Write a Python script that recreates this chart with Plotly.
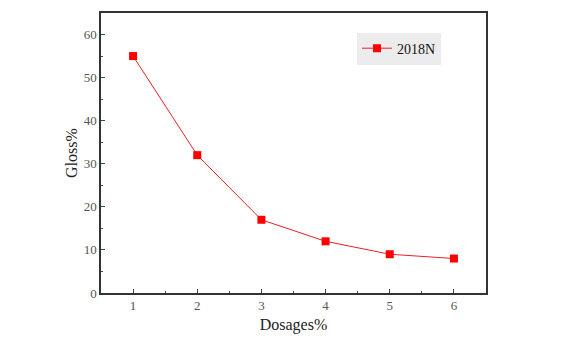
import plotly.graph_objects as go

dosages = [1, 2, 3, 4, 5, 6]
gloss = [55, 32, 17, 12, 9, 8]
series_name = "2018N"

fig = go.Figure()
fig.add_trace(go.Scatter(
    x=dosages, y=gloss, name=series_name, mode="lines+markers",
    line=dict(color="#e8202a", width=1),
    marker=dict(symbol="square", size=8, color="#ff0000"),
))

axis_font = dict(family="Liberation Serif", size=13, color="#555555")
title_font = dict(family="Liberation Serif", size=16, color="#222222")
fig.update_layout(
    width=565, height=340,
    margin=dict(l=101, r=79, t=13, b=47),
    paper_bgcolor="white", plot_bgcolor="white",
    font=dict(family="Liberation Serif", color="#222222"),
    showlegend=True,
    legend=dict(x=0.665, y=0.93, xanchor="left", yanchor="top",
                bgcolor="#ececec", borderwidth=0, itemwidth=30,
                font=dict(family="Liberation Serif", size=14, color="#111111")),
)
fig.update_xaxes(
    range=[0.5, 6.5], tickvals=dosages, ticks="inside", ticklen=4,
    tickcolor="#444444", showline=True, linecolor="#333333", linewidth=1.5,
    mirror=True, showgrid=False, zeroline=False, tickfont=axis_font,
    automargin=False,
    minor=dict(dtick=0.5, ticks="inside", ticklen=2, tickcolor="#444444"),
    title=dict(text="Dosages%", font=title_font, standoff=6),
)
fig.update_yaxes(
    range=[0, 65], dtick=10, ticks="inside", ticklen=4,
    tickcolor="#444444", showline=True, linecolor="#333333", linewidth=1.5,
    mirror=True, showgrid=False, zeroline=False, tickfont=axis_font,
    automargin=False,
    minor=dict(dtick=5, ticks="inside", ticklen=2, tickcolor="#444444"),
    title=dict(text="Gloss%", font=title_font, standoff=2),
)

fig.write_html("out.html")
